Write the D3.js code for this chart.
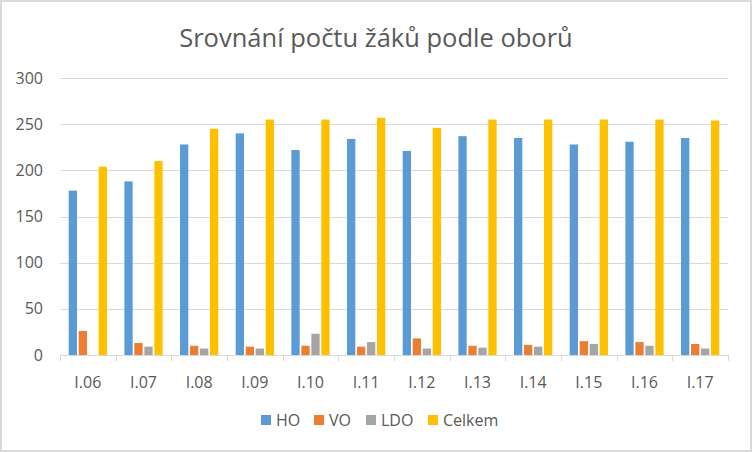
<!DOCTYPE html>
<html>
<head>
<meta charset="utf-8">
<script src="https://cdn.jsdelivr.net/npm/d3@7"></script>
<style>
  html, body { margin: 0; padding: 0; background: #fff; }
  svg { display: block; font-family: "Open Sans", "Liberation Sans", sans-serif; }
</style>
</head>
<body>
<div id="chart"></div>
<script>
const categories = ["I.06", "I.07", "I.08", "I.09", "I.10", "I.11", "I.12", "I.13", "I.14", "I.15", "I.16", "I.17"];
const seriesNames = ["HO", "VO", "LDO", "Celkem"];
const hoValues = [178, 188, 228, 240, 222, 234, 221, 237, 235, 228, 231, 235];
const voValues = [26, 13, 10, 9, 10, 9, 18, 10, 11, 15, 14, 12];
const ldoValues = [0, 9, 7, 7, 23, 14, 7, 8, 9, 12, 10, 7];
const celkemValues = [204, 210, 245, 255, 255, 257, 246, 255, 255, 255, 255, 254];
const yTicks = [0, 50, 100, 150, 200, 250, 300];
const colors = ["#5B9BD5", "#ED7D31", "#A5A5A5", "#FFC000"];

const W = 752, H = 452;
const MARGIN = { TOP: 78, BOTTOM: 97, LEFT: 60, RIGHT: 24 };
const WIDTH = W - MARGIN.LEFT - MARGIN.RIGHT;
const HEIGHT = H - MARGIN.TOP - MARGIN.BOTTOM;

const table = categories.map((c, i) => ({
  cat: c,
  vals: [hoValues[i], voValues[i], ldoValues[i], celkemValues[i]]
}));

const svg = d3.select("#chart").append("svg")
  .attr("width", W)
  .attr("height", H);

// outer border
svg.append("rect")
  .attr("x", 1).attr("y", 1)
  .attr("width", W - 2).attr("height", H - 2)
  .attr("fill", "#fff")
  .attr("stroke", "#d9d9d9")
  .attr("stroke-width", 2);

svg.append("text")
  .attr("x", W / 2)
  .attr("y", 47)
  .attr("text-anchor", "middle")
  .attr("fill", "#595959")
  .attr("font-size", 25.5)
  .text("Srovnání počtu žáků podle oborů");

const g = svg.append("g")
  .attr("transform", `translate(${MARGIN.LEFT}, ${MARGIN.TOP})`);

const y = d3.scaleLinear().domain([0, 300]).range([HEIGHT, 0]);

const x0 = d3.scaleBand()
  .domain(categories)
  .range([0, WIDTH])
  .paddingInner(0.3125)
  .paddingOuter(0.15625);

const x1 = d3.scaleBand()
  .domain(seriesNames)
  .range([0, x0.bandwidth()])
  .paddingInner(0.17);

// gridlines
g.append("g")
  .selectAll("line")
  .data(yTicks.filter(t => t > 0))
  .join("line")
    .attr("x1", 0).attr("x2", WIDTH)
    .attr("y1", d => Math.round(y(d)) + 0.5)
    .attr("y2", d => Math.round(y(d)) + 0.5)
    .attr("stroke", "#d9d9d9");

// y axis labels
const yAxis = d3.axisLeft(y).tickValues(yTicks).tickSize(0).tickPadding(17);
g.append("g").call(yAxis)
  .call(s => s.select(".domain").remove())
  .selectAll("text")
    .attr("fill", "#595959")
    .attr("font-size", 16)
    .attr("font-family", "Open Sans, sans-serif");

// bars
g.append("g")
  .selectAll("g")
  .data(table)
  .join("g")
    .attr("transform", d => `translate(${x0(d.cat)}, 0)`)
  .selectAll("rect")
  .data(d => d.vals.map((v, i) => ({ key: seriesNames[i], v, i })))
  .join("rect")
    .attr("x", d => x1(d.key))
    .attr("y", d => y(d.v))
    .attr("width", x1.bandwidth())
    .attr("height", d => HEIGHT - y(d.v))
    .attr("fill", d => colors[d.i]);

// x axis
const xAxisG = g.append("g")
  .attr("transform", `translate(0, ${HEIGHT})`);
xAxisG.append("line")
  .attr("x1", 0).attr("x2", WIDTH)
  .attr("y1", 0.5).attr("y2", 0.5)
  .attr("stroke", "#d9d9d9");
const step = x0.step();
xAxisG.selectAll("line.tick")
  .data(d3.range(categories.length + 1))
  .join("line")
    .attr("class", "tick")
    .attr("x1", i => Math.round(i * step) + 0.5)
    .attr("x2", i => Math.round(i * step) + 0.5)
    .attr("y1", 0).attr("y2", 6)
    .attr("stroke", "#d9d9d9");
xAxisG.selectAll("text")
  .data(categories)
  .join("text")
    .attr("x", d => x0(d) + x0.bandwidth() / 2)
    .attr("y", 33)
    .attr("text-anchor", "middle")
    .attr("fill", "#595959")
    .attr("font-size", 16)
    .text(d => d);

// legend
const legendX = [261, 314, 366, 428];
const legend = svg.append("g")
  .selectAll("g")
  .data(seriesNames)
  .join("g")
    .attr("transform", (d, i) => `translate(${legendX[i]}, 415)`);
legend.append("rect")
  .attr("width", 10).attr("height", 10)
  .attr("fill", (d, i) => colors[i]);
legend.append("text")
  .attr("x", 15)
  .attr("y", 10.5)
  .attr("fill", "#595959")
  .attr("font-size", 16)
  .text(d => d);
</script>
</body>
</html>
